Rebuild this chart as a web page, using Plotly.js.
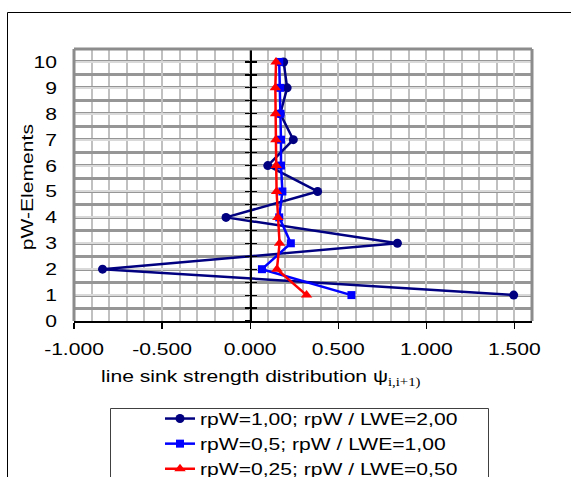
<!DOCTYPE html>
<html>
<head>
<meta charset="utf-8">
<script src="https://cdn.plot.ly/plotly-3.0.1.min.js"></script>
<style>
  html, body { margin: 0; padding: 0; background: #fff; }
  #chart { width: 571px; height: 477px; }
</style>
</head>
<body>
<div id="chart"></div>
<script>
// ---- data ----
const pwElements = [1, 2, 3, 4, 5, 6, 7, 8, 9, 10];
const psiRpw100 = [1.496, -0.838, 0.836, -0.137, 0.383, 0.100, 0.245, 0.171, 0.210, 0.190];
const psiRpw050 = [0.575, 0.067, 0.231, 0.165, 0.183, 0.175, 0.175, 0.172, 0.170, 0.165];
const psiRpw025 = [0.320, 0.152, 0.167, 0.157, 0.150, 0.148, 0.146, 0.144, 0.143, 0.147];
const seriesNames = [
  'rpW=1,00; rpW / LWE=2,00',
  'rpW=0,5; rpW / LWE=1,00',
  'rpW=0,25; rpW / LWE=0,50'
];
const xTickVals = [-1, -0.5, 0, 0.5, 1, 1.5];
const xTickText = ['-1.000', '-0.500', '0.000', '0.500', '1.000', '1.500'];
const yTickVals = [0, 1, 2, 3, 4, 5, 6, 7, 8, 9, 10];
const yTickText = ['0', '1', '2', '3', '4', '5', '6', '7', '8', '9', '10'];
const xTitle = 'line sink strength distribution ψ<sub><span style="font-family:\'Liberation Serif\',\'Times New Roman\',serif">i,i+1)</span></sub>';
const yTitle = 'pW-Elements';

const FONT = '"Liberation Sans", Arial, sans-serif';
const FS = 17;
const STRETCH = 1.24;

const traces = [
  {x: psiRpw100, y: pwElements, name: seriesNames[0], type: 'scatter', mode: 'lines+markers',
   line: {color: '#000080', width: 2.5}, marker: {symbol: 'circle', size: 9, color: '#000080'}},
  {x: psiRpw050, y: pwElements, name: seriesNames[1], type: 'scatter', mode: 'lines+markers',
   line: {color: '#0000FF', width: 2.5}, marker: {symbol: 'square', size: 8, color: '#0000FF'}},
  {x: psiRpw025, y: pwElements, name: seriesNames[2], type: 'scatter', mode: 'lines+markers',
   line: {color: '#FF0000', width: 2.5}, marker: {symbol: 'triangle-up', size: 10, color: '#FF0000'}},
  {x: [null], y: [null], xaxis: 'x', yaxis: 'y2', showlegend: false, hoverinfo: 'skip', type: 'scatter', mode: 'markers'},
  {x: [null], y: [null], xaxis: 'x', yaxis: 'y3', showlegend: false, hoverinfo: 'skip', type: 'scatter', mode: 'markers'}
];

const L = 74, R = 39, T = 49, B = 156;
const W = 571, H = 477;
const pw = W - L - R, ph = H - T - B;
const px = v => (v - L) / pw;
const py = v => (H - B - v) / ph;
const xZeroPos = (0 - (-1)) / (1.6 - (-1));

const yOverlay = (ticks) => ({
  overlaying: 'y', anchor: 'free', position: xZeroPos, range: [0, 10.5],
  showline: true, linecolor: '#000', linewidth: 1.5, ticks: ticks, ticklen: 5,
  tickcolor: '#000', tickwidth: 1.2, dtick: 0.5, tick0: 0, tickmode: 'linear',
  showticklabels: false, showgrid: false, zeroline: false
});

const layout = {
  width: W, height: H,
  margin: {l: L, r: R, t: T, b: B, autoexpand: false},
  paper_bgcolor: '#fff', plot_bgcolor: '#fff',
  font: {family: FONT, size: FS, color: '#000'},
  showlegend: true,
  legend: {x: px(160), y: py(401), xanchor: 'left', yanchor: 'top',
           bgcolor: 'rgba(0,0,0,0)', borderwidth: 0, font: {family: FONT, size: FS, color: '#000'},
           tracegroupgap: 0},
  xaxis: {
    range: [-1, 1.6], tickvals: xTickVals, ticktext: xTickText,
    showline: true, linecolor: '#000', linewidth: 1.5,
    ticks: 'outside', ticklen: 6, tickcolor: '#000', tickwidth: 1.2, ticklabelstandoff: 6,
    showgrid: true, gridcolor: '#c0c0c0', gridwidth: 2,
    minor: {dtick: 0.1, tick0: -1, showgrid: true, gridcolor: '#c0c0c0', gridwidth: 2, ticks: ''},
    zeroline: false, automargin: false, tickfont: {family: FONT, size: FS, color: '#000'}
  },
  yaxis: {
    range: [0, 10.5], tickvals: yTickVals, ticktext: yTickText,
    showline: false, ticks: '', ticklabelstandoff: 16,
    showgrid: true, gridcolor: '#d9d9d9', gridwidth: 2,
    minor: {dtick: 0.5, tick0: 0.5, showgrid: true, gridcolor: '#969696', gridwidth: 3, ticks: ''},
    zeroline: false, automargin: false, tickfont: {family: FONT, size: FS, color: '#000'}
  },
  yaxis2: yOverlay('outside'),
  yaxis3: yOverlay('inside'),
  shapes: [
    // plot-area border (left, top, right)
    {type: 'line', xref: 'paper', yref: 'paper', x0: 0, x1: 0, y0: 0, y1: 1, line: {color: '#8c8c8c', width: 3}, layer: 'above'},
    {type: 'line', xref: 'paper', yref: 'paper', x0: 0, x1: 1, y0: 1, y1: 1, line: {color: '#8c8c8c', width: 3}, layer: 'above'},
    {type: 'line', xref: 'paper', yref: 'paper', x0: 1, x1: 1, y0: 0, y1: 1, line: {color: '#8c8c8c', width: 3}, layer: 'above'},
    // chart border
    {type: 'rect', xref: 'paper', yref: 'paper', x0: px(7.5), x1: 1.3, y0: -1.2, y1: py(12.5), line: {color: '#000', width: 1}, fillcolor: 'rgba(0,0,0,0)', layer: 'above'},
    // legend box
    {type: 'rect', xref: 'paper', yref: 'paper', x0: px(110.5), x1: px(488.5), y0: -1.2, y1: py(408.5), line: {color: '#404040', width: 1}, fillcolor: 'rgba(0,0,0,0)', layer: 'above'}
  ],
  annotations: [
    {text: yTitle, xref: 'paper', yref: 'paper', x: px(27), y: py(187), xanchor: 'center', yanchor: 'middle',
     textangle: -90, showarrow: false, font: {family: FONT, size: FS, color: '#000'}},
    {text: xTitle, xref: 'paper', yref: 'paper', x: px(260.5), y: py(378), xanchor: 'center', yanchor: 'middle',
     showarrow: false, font: {family: FONT, size: FS, color: '#000'}}
  ]
};

function stretchText(gd, f) {
  gd.querySelectorAll('svg text').forEach(t => {
    const len = t.getComputedTextLength();
    if (len > 0) {
      t.setAttribute('textLength', (len * f).toFixed(2));
      t.setAttribute('lengthAdjust', 'spacingAndGlyphs');
    }
  });
  // let the widened legend texts show fully
  gd.querySelectorAll('.legend [clip-path]').forEach(el => el.removeAttribute('clip-path'));
  gd.querySelectorAll('.annotation [clip-path]').forEach(el => el.removeAttribute('clip-path'));
}

const gd = document.getElementById('chart');
Plotly.newPlot(gd, traces, layout, {displayModeBar: false, staticPlot: true}).then(() => stretchText(gd, STRETCH));
</script>
</body>
</html>
